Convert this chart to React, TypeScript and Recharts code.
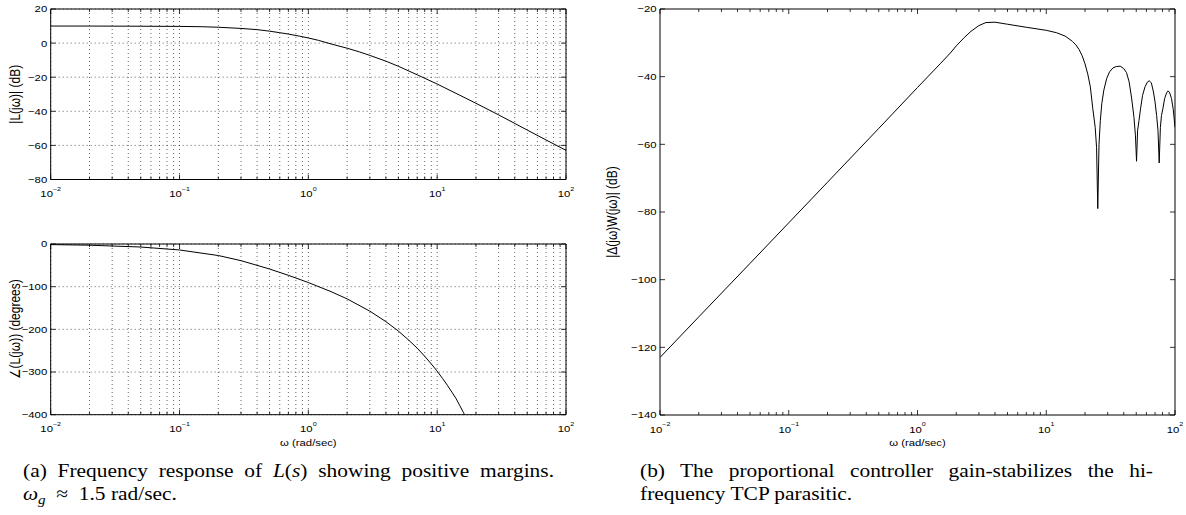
import React from 'react';
import { LineChart, Line, XAxis, YAxis, CartesianGrid, Label } from 'recharts';

const SANS = '"Liberation Sans", Arial, Helvetica, sans-serif';
const SERIF = '"Liberation Serif", "Times New Roman", Times, serif';
const SX = 1.19;
const FS = 9.5;
const FS_YLABEL = 12;
const CAP_FS = 18.5;
const CAP_SX = 1.157;

// x ticks (log axis)
const xMajor = [0.01, 0.1, 1, 10, 100];
const xMinor = [
  0.02, 0.03, 0.04, 0.05, 0.06, 0.07, 0.08, 0.09,
  0.2, 0.3, 0.4, 0.5, 0.6, 0.7, 0.8, 0.9,
  2, 3, 4, 5, 6, 7, 8, 9,
  20, 30, 40, 50, 60, 70, 80, 90,
];
const xTicks = [...xMajor, ...xMinor].sort((a, b) => a - b);

// (a) top: |L(jw)| (dB)
const magW = [0.01, 0.02, 0.05, 0.1, 0.15, 0.2, 0.3, 0.4, 0.5, 0.6, 0.7, 0.85, 1, 1.2, 1.5, 2, 2.5, 3, 4, 5, 7, 10, 15, 20, 30, 50, 70, 100];
const magDb = [10.0, 10.0, 9.9, 9.8, 9.6, 9.3, 8.6, 7.9, 7.0, 6.1, 5.3, 4.1, 3.0, 1.6, -0.5, -3.0, -5.2, -7.2, -10.6, -13.6, -18.6, -24.0, -30.6, -35.3, -42.1, -51.0, -56.8, -62.9];
const magTicks = [-80, -60, -40, -20, 0, 20];

// (a) bottom: phase of L(jw) (degrees)
const phaseW = [0.01, 0.02, 0.05, 0.1, 0.2, 0.3, 0.5, 0.7, 1, 1.5, 2, 3, 4, 5, 6, 7, 8, 9, 10, 11, 12, 13, 14, 15, 16, 16.3];
const phaseDeg = [-1.4, -2.8, -7.1, -14, -27, -39, -58.6, -73.4, -90.3, -111.6, -128.6, -157.3, -182, -204, -225, -244, -263, -281, -298, -315, -331, -347, -362, -379, -395, -400];
const phaseTicks = [-400, -300, -200, -100, 0];

// (b): |Delta(jw) W(jw)| (dB)
const parW = [0.01, 0.02, 0.05, 0.1, 0.2, 0.5, 1, 1.5, 1.8, 2, 2.3, 2.6, 3, 3.4, 4, 5, 7, 10, 12, 14, 15, 16, 17, 18, 19, 20, 21, 22, 23, 24, 24.6, 25.13, 25.7, 26.3, 27, 28, 29.5, 31, 33, 35, 37.5, 40, 42, 44, 46, 48, 49.3, 50.27, 51.2, 52.5, 54, 56, 58.5, 61, 63, 65.5, 68, 70, 72, 73.8, 75.4, 77, 78.5, 80.5, 83, 86, 88.5, 91, 94, 97, 100];
const parDb = [-123, -111, -95.2, -83.2, -71.2, -55.3, -43.2, -36.2, -33.0, -30.9, -28.5, -26.6, -24.9, -24.0, -23.9, -24.5, -25.4, -26.3, -27.0, -28.0, -28.8, -29.6, -30.6, -32.0, -33.8, -36.2, -39.2, -43, -49.5, -55, -61, -79, -60, -53, -48, -44, -40.5, -38.6, -37.4, -37.0, -36.9, -37.6, -38.8, -41.5, -46.3, -52, -57.5, -65, -56, -53, -49.5, -45.5, -43, -41.6, -41.2, -41.8, -44.5, -47.5, -51.5, -56, -65.5, -55, -51.5, -49.5, -46.5, -44.8, -44.2, -44.8, -46.5, -49.8, -55];
const parTicks = [-140, -120, -100, -80, -60, -40, -20];

const isMajor = (v: number) => xMajor.some((m) => Math.abs(m - v) < m * 1e-6);
const fmt = (n: number) => (n < 0 ? `\u2212${-n}` : `${n}`);

const BottomTick = (props: any) => {
  const { x, y, payload } = props;
  const v = payload.value;
  const major = isMajor(v);
  const e = Math.round(Math.log10(v));
  return (
    <g>
      <line x1={x} y1={y} x2={x} y2={y - (major ? 5 : 3)} stroke="#000" strokeWidth={0.8} />
      {major && (
        <text transform={`translate(${x},${y + 17.5}) scale(${SX},1)`} textAnchor="middle" fontFamily={SANS} fontSize={FS} fill="#000">
          <tspan>10</tspan>
          <tspan dy={-6.5} fontSize={6}>{fmt(e)}</tspan>
        </text>
      )}
    </g>
  );
};

const TopTick = (props: any) => {
  const { x, y, payload } = props;
  const major = isMajor(payload.value);
  return <line x1={x} y1={y} x2={x} y2={y + (major ? 5 : 3)} stroke="#000" strokeWidth={0.8} />;
};

const LeftTick = (props: any) => {
  const { x, y, payload } = props;
  return (
    <g>
      <line x1={x} y1={y} x2={x + 5} y2={y} stroke="#000" strokeWidth={0.8} />
      <text transform={`translate(${x - 3.5},${y + 3.4}) scale(${SX},1)`} textAnchor="end" fontFamily={SANS} fontSize={FS} fill="#000">
        {fmt(payload.value)}
      </text>
    </g>
  );
};

const RightTick = (props: any) => {
  const { x, y } = props;
  return <line x1={x} y1={y} x2={x - 5} y2={y} stroke="#000" strokeWidth={0.8} />;
};

type PanelProps = {
  left: number;
  top: number;
  width: number;
  height: number;
  plot: { top: number; right: number; bottom: number; left: number };
  w: number[];
  v: number[];
  yDomain: [number, number];
  yTicks: number[];
  yLabel: string;
  yLabelOffset: number;
  xLabel?: string;
  grid: boolean;
};

function Panel(p: PanelProps) {
  const data = p.w.map((w, i) => ({ w, v: p.v[i] }));
  const axisLine = { stroke: '#000', strokeWidth: 1 };
  // each axis takes 1px of the margin
  const margin = {
    top: p.plot.top - 1,
    right: p.plot.right - 1,
    bottom: p.plot.bottom - 1,
    left: p.plot.left - 1,
  };
  return (
    <div style={{ position: 'absolute', left: p.left, top: p.top, width: p.width, height: p.height }}>
      <LineChart width={p.width} height={p.height} data={data} margin={margin}>
        {p.grid && (
          <CartesianGrid stroke="#000" strokeWidth={0.6} strokeDasharray="1 3" />
        )}
        <XAxis
          dataKey="w"
          type="number"
          scale="log"
          domain={[0.01, 100]}
          allowDataOverflow
          ticks={xTicks}
          interval={0}
          tickLine={false}
          tickSize={0}
          tickMargin={0}
          height={1}
          axisLine={axisLine}
          tick={(t: any) => <BottomTick {...t} />}
        >
          {p.xLabel && (
            <Label
              content={(lp: any) => {
                const vb = lp.viewBox || {};
                return (
                  <text
                    transform={`translate(${vb.x + vb.width / 2},${vb.y + 31}) scale(${SX},1)`}
                    textAnchor="middle"
                    fontFamily={SANS}
                    fontSize={FS}
                    fill="#000"
                  >
                    {p.xLabel}
                  </text>
                );
              }}
            />
          )}
        </XAxis>
        <XAxis
          xAxisId="top"
          orientation="top"
          dataKey="w"
          type="number"
          scale="log"
          domain={[0.01, 100]}
          allowDataOverflow
          ticks={xTicks}
          interval={0}
          tickLine={false}
          tickSize={0}
          tickMargin={0}
          height={1}
          axisLine={axisLine}
          tick={(t: any) => <TopTick {...t} />}
        />
        <YAxis
          type="number"
          domain={p.yDomain}
          allowDataOverflow
          ticks={p.yTicks}
          interval={0}
          tickLine={false}
          tickSize={0}
          tickMargin={0}
          width={1}
          axisLine={axisLine}
          tick={(t: any) => <LeftTick {...t} />}
        >
          <Label
            content={(lp: any) => {
              const vb = lp.viewBox || {};
              return (
                <text
                  transform={`translate(${vb.x + vb.width - p.yLabelOffset},${vb.y + vb.height / 2}) scale(${SX},1) rotate(-90)`}
                  textAnchor="middle"
                  fontFamily={SANS}
                  fontSize={FS_YLABEL}
                  fill="#000"
                >
                  {p.yLabel}
                </text>
              );
            }}
          />
        </YAxis>
        <YAxis
          yAxisId="right"
          orientation="right"
          type="number"
          domain={p.yDomain}
          allowDataOverflow
          ticks={p.yTicks}
          interval={0}
          tickLine={false}
          tickSize={0}
          tickMargin={0}
          width={1}
          axisLine={axisLine}
          tick={(t: any) => <RightTick {...t} />}
        />
        <Line
          dataKey="v"
          type="linear"
          stroke="#000"
          strokeWidth={1}
          dot={false}
          activeDot={false}
          isAnimationActive={false}
        />
      </LineChart>
    </div>
  );
}

const captionBase: React.CSSProperties = {
  position: 'absolute',
  top: 460,
  transform: `scaleX(${CAP_SX})`,
  transformOrigin: '0 0',
  fontFamily: SERIF,
  fontSize: CAP_FS,
  lineHeight: '23px',
  color: '#000',
};
const justLine: React.CSSProperties = { textAlign: 'justify', textAlignLast: 'justify' as any };

export default function App() {
  return (
    <div style={{ position: 'absolute', left: 0, top: 0, width: 1186, height: 515, background: '#fff', overflow: 'hidden' }}>
      <Panel
        left={0}
        top={0}
        width={600}
        height={230}
        plot={{ top: 9, right: 34, bottom: 50.5, left: 50.7 }}
        w={magW}
        v={magDb}
        yDomain={[-80, 20]}
        yTicks={magTicks}
        yLabel={'|L(j\u03C9)| (dB)'}
        yLabelOffset={31}
        grid
      />
      <Panel
        left={0}
        top={230}
        width={600}
        height={285}
        plot={{ top: 14, right: 34, bottom: 100.3, left: 50.7 }}
        w={phaseW}
        v={phaseDeg}
        yDomain={[-400, 0]}
        yTicks={phaseTicks}
        yLabel={'\u2220(L(j\u03C9)) (degrees)'}
        yLabelOffset={31}
        xLabel={'\u03C9 (rad/sec)'}
        grid
      />
      <Panel
        left={600}
        top={0}
        width={586}
        height={515}
        plot={{ top: 9, right: 11, bottom: 100, left: 60 }}
        w={parW}
        v={parDb}
        yDomain={[-140, -20]}
        yTicks={parTicks}
        yLabel={'|\u0394(j\u03C9)W(j\u03C9)| (dB)'}
        yLabelOffset={43}
        xLabel={'\u03C9 (rad/sec)'}
        grid={false}
      />
      <div style={{ ...captionBase, left: 23, width: 531 / CAP_SX }}>
        <div style={justLine}>
          (a) Frequency response of <i>L</i>(<i>s</i>) showing positive margins.
        </div>
        <div>
          <i>{'\u03C9'}</i>
          <span style={{ fontSize: 13, position: 'relative', top: 4 }}><i>g</i></span>
          {'\u2002\u2248\u2002'}1.5 rad/sec.
        </div>
      </div>
      <div style={{ ...captionBase, left: 640, width: 513 / CAP_SX }}>
        <div style={justLine}>
          (b) The proportional controller gain-stabilizes the hi-
        </div>
        <div>frequency TCP parasitic.</div>
      </div>
    </div>
  );
}
